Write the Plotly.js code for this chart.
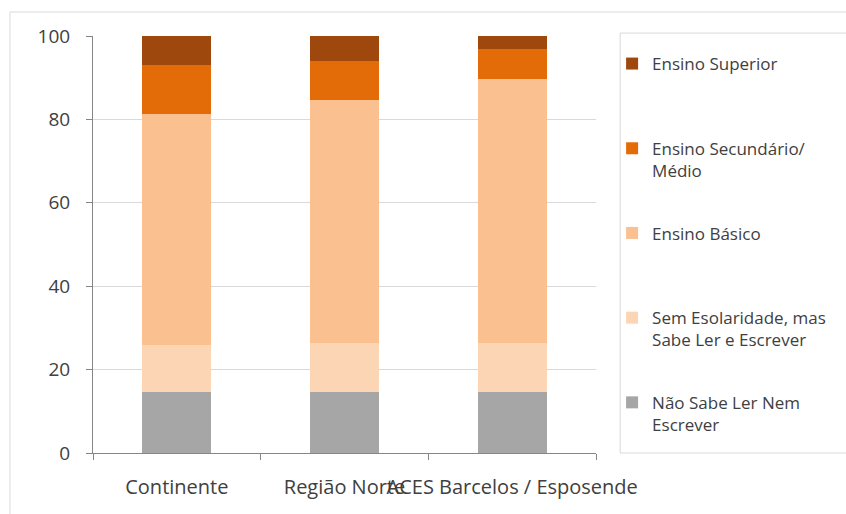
<!DOCTYPE html>
<html><head><meta charset="utf-8">
<script src="https://cdn.plot.ly/plotly-3.0.1.min.js"></script>
<style>body{margin:0;background:#fff}#c{width:846px;height:514px}</style>
</head><body><div id="c"></div>
<script>
const categories = ["Continente", "Região Norte", "ACES Barcelos / Esposende"];
const seriesNames = ["Não Sabe Ler Nem<br>Escrever", "Sem Esolaridade, mas<br>Sabe Ler e Escrever", "Ensino Básico<br> ", "Ensino Secundário/<br>Médio", "Ensino Superior<br> "];
const naoSabe = [14.7, 14.7, 14.7];
const semEscolaridade = [11.2, 11.8, 11.8];
const basico = [55.3, 58.1, 63.1];
const secundario = [11.8, 9.5, 7.2];
const superior = [7.0, 5.9, 3.2];
const yTicks = [0, 20, 40, 60, 80, 100];
const colors = ["#A6A6A6", "#FCD5B4", "#FAC090", "#E36C09", "#9E480E"];

const values = [naoSabe, semEscolaridade, basico, secundario, superior];
const traces = values.map((v, i) => ({
  type: "bar", x: categories, y: v, name: seriesNames[i],
  legendgroup: "g" + i, legendrank: 1000 - i,
  marker: {color: colors[i], line: {width: 0}}
}));

const font = "'Open Sans', 'Noto Sans', sans-serif";
const layout = {
  width: 846, height: 514,
  margin: {l: 93, r: 250, t: 36, b: 61},
  barmode: "stack", bargap: 0.59,
  paper_bgcolor: "#fff", plot_bgcolor: "#fff",
  font: {family: font, color: "#404040"},
  showlegend: true,
  legend: {
    x: 1.032, y: 0.976, xanchor: "left", yanchor: "top",
    traceorder: "grouped", tracegroupgap: 37.5, valign: "top",
    font: {size: 17, family: font, color: "#404040"},
    bgcolor: "rgba(0,0,0,0)", borderwidth: 0, itemwidth: 30
  },
  xaxis: {
    type: "category", tickangle: 0, tickson: "boundaries",
    ticks: "outside", ticklen: 6, tickcolor: "#868686",
    showline: true, linecolor: "#868686", linewidth: 1,
    showgrid: false, tickfont: {size: 20, color: "#404040"},
    ticklabelstandoff: 16, fixedrange: true
  },
  yaxis: {
    range: [0, 100], tickvals: yTicks, ticks: "outside", ticklen: 6,
    tickcolor: "#868686", showline: true, linecolor: "#868686", linewidth: 1,
    gridcolor: "#D9D9D9", gridwidth: 1, zeroline: false,
    tickfont: {size: 19, color: "#404040"}, ticklabelstandoff: 12, fixedrange: true
  },
  shapes: [
    {type: "rect", xref: "paper", yref: "paper", x0: 1.048, x1: 1.5, y0: 0.0, y1: 1.007,
     line: {color: "#D9D9D9", width: 1}, fillcolor: "rgba(0,0,0,0)", layer: "below"},
    {type: "line", xref: "paper", yref: "paper", x0: -0.165, x1: 1.6, y0: 1.0576, y1: 1.0576,
     line: {color: "#D9D9D9", width: 1}},
    {type: "line", xref: "paper", yref: "paper", x0: -0.165, x1: -0.165, y0: -0.2, y1: 1.0576,
     line: {color: "#D9D9D9", width: 1}}
  ]
};
Plotly.newPlot("c", traces, layout, {displayModeBar: false, staticPlot: true});
</script></body></html>
